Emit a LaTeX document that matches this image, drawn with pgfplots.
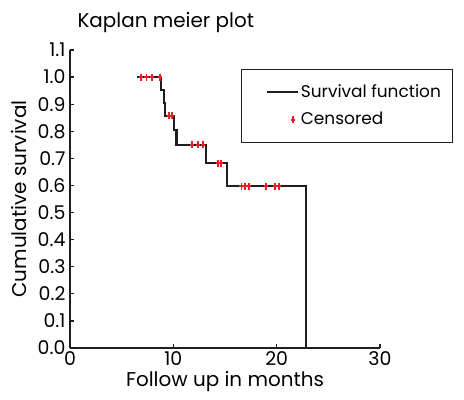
\documentclass[border=0pt]{standalone}
\usepackage{pgfplots}
\pgfplotsset{compat=1.18}
\usepackage{fontspec}
\setmainfont{Poppins}
\definecolor{cens}{RGB}{235,30,40}
\definecolor{ln}{RGB}{30,30,30}
\pgfplotsset{
  kmline legend/.style={legend image code/.code={\path (0bp,0bp); \draw[##1] (14bp,0bp) -- (45bp,0bp);}},
  kmmark legend/.style={legend image code/.code={\path (0bp,0bp) (45bp,0bp); \draw[mark repeat=2,mark phase=2,##1] plot coordinates {(0bp,0bp) (40bp,0bp) (80bp,0bp)};}},
}
\begin{document}
\fontsize{19}{22}\selectfont
\begin{tikzpicture}
\useasboundingbox (-70bp,-52bp) rectangle (394bp,348bp);
\begin{axis}[
  at={(0,0)}, anchor=south west,
  scale only axis, width=310bp, height=298bp,
  xmin=0, xmax=30, ymin=0, ymax=1.1,
  axis lines*=left,
  axis line style={line width=1.6bp, ln},
  tick style={line width=1.2bp, ln},
  tick align=inside,
  major tick length=4bp,
  xtick={0,10,20,30},
  ytick={0,0.1,0.2,0.3,0.4,0.5,0.6,0.7,0.8,0.9,1.0,1.1},
  yticklabel style={/pgf/number format/fixed, /pgf/number format/fixed zerofill, /pgf/number format/precision=1, xshift=2bp},
  /pgf/number format/assume math mode=true,
  ticklabel style={font=\fontsize{19}{22}\selectfont},
  xticklabel style={yshift=3bp},
  xlabel={Follow up in months},
  ylabel={Cumulative survival},
  label style={font=\fontsize{20}{23}\selectfont},
  xlabel style={yshift=7bp},
  ylabel style={yshift=-2bp},
  legend style={at={(0.552,0.937)}, anchor=north west, draw=ln, line width=1.2bp,
    font=\fontsize{17}{20}\selectfont, inner xsep=10bp, inner ysep=13bp,
    row sep=8bp, cells={anchor=west}},
  clip=false,
]
\addplot[const plot, ln, line width=2.2bp, kmline legend]
  coordinates {(6.5,1) (8.8,0.9524) (9.1,0.9048) (9.2,0.8571) (10.1,0.8036) (10.3,0.75) (13.2,0.6818) (15.2,0.5966) (22.8,0)};
\addlegendentry{Survival function}
\addplot[only marks, mark=+, cens, mark size=3bp, line width=1.8bp,
  mark options={yscale=1.15, xscale=0.7}, kmmark legend]
  coordinates {(6.9,1) (7.4,1) (7.9,1) (8.7,1) (9.6,0.8571) (9.9,0.8571) (11.8,0.75) (12.4,0.75) (12.9,0.75) (14.3,0.6818) (14.6,0.6818) (16.6,0.5966) (16.9,0.5966) (17.3,0.5966) (19.0,0.5966) (19.8,0.5966) (20.2,0.5966)};
\addlegendentry{Censored}
\node[anchor=base west, font=\fontsize{20}{23}\selectfont] at (rel axis cs:0,1) [yshift=22bp, xshift=1bp] {Kaplan meier plot};
\end{axis}
\end{tikzpicture}
\end{document}
